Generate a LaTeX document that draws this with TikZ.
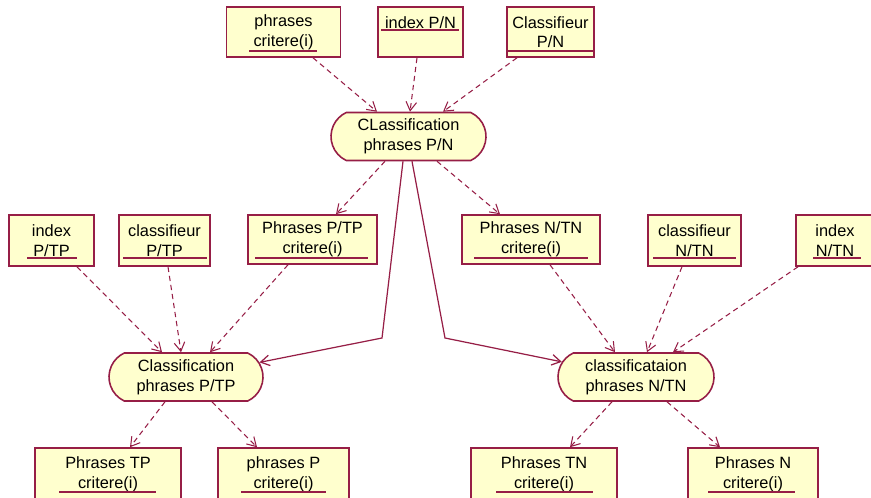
\documentclass[tikz,border=0pt]{standalone}
\usepackage{fontspec}
\setmainfont{Liberation Sans}
\usepackage{tikz}
\usetikzlibrary{calc,arrows.meta,shapes.misc}

\definecolor{roseline}{RGB}{150,30,70}
\definecolor{rosefill}{RGB}{255,255,206}

\begin{document}
\begin{tikzpicture}[x=0.02cm,y=-0.02cm,
	obj/.style={draw=roseline, fill=rosefill, line width=0.9pt, inner sep=0pt,
		align=center, font=\fontsize{9.3}{11.2}\selectfont},
	activity/.style={draw=roseline, fill=rosefill, line width=0.9pt, inner sep=0pt,
		rounded rectangle, rounded rectangle arc length=130,
		minimum width=155*0.02cm, minimum height=48*0.02cm,
		align=center, font=\fontsize{9.3}{11.2}\selectfont},
	ulline/.style={draw=roseline, line width=0.8pt},
	flow/.style={draw=roseline, line width=0.6pt, dash pattern=on 3pt off 2.2pt,
		-{Straight Barb[length=5pt,width=6pt]}},
	trans/.style={draw=roseline, line width=0.7pt,
		-{Straight Barb[length=5pt,width=6pt]}}]

	% ---- frame

	\useasboundingbox (0,0) rectangle (871,497);
	\clip (0,0) rectangle (871,497);

	% ---- objects, top row

	\node[obj, minimum width=114*0.02cm, minimum height=50*0.02cm] (phrPN) at (283.5,32) {phrases\\critere(i)};
	\node[obj, minimum width=85*0.02cm, minimum height=50*0.02cm] (idxPN) at (420.5,32) {index P/N\\\mbox{}};
	\node[obj, minimum width=87*0.02cm, minimum height=50*0.02cm] (clfPN) at (550.5,32) {Classifieur\\P/N};

	% ---- objects, middle row

	\node[obj, minimum width=85*0.02cm, minimum height=51*0.02cm] (idxPTP) at (51.5,240.5) {index\\P/TP};
	\node[obj, minimum width=91*0.02cm, minimum height=51*0.02cm] (clfPTP) at (164.5,240.5) {classifieur\\P/TP};
	\node[obj, minimum width=129*0.02cm, minimum height=49*0.02cm] (phrPTP) at (312.5,239.5) {Phrases P/TP\\critere(i)};
	\node[obj, minimum width=138*0.02cm, minimum height=49*0.02cm] (phrNTN) at (531,239.5) {Phrases N/TN\\critere(i)};
	\node[obj, minimum width=93*0.02cm, minimum height=51*0.02cm] (clfNTN) at (694.5,240.5) {classifieur\\N/TN};
	\node[obj, minimum width=78*0.02cm, minimum height=51*0.02cm] (idxNTN) at (835,240.5) {index\\N/TN};

	% ---- objects, bottom row

	\node[obj, minimum width=146*0.02cm, minimum height=52*0.02cm] (phrTP) at (108,474) {Phrases TP\\critere(i)};
	\node[obj, minimum width=131*0.02cm, minimum height=52*0.02cm] (phrP) at (283.5,474) {phrases P\\critere(i)};
	\node[obj, minimum width=146*0.02cm, minimum height=52*0.02cm] (phrTN) at (544,474) {Phrases TN\\critere(i)};
	\node[obj, minimum width=130*0.02cm, minimum height=52*0.02cm] (phrN) at (753,474) {Phrases N\\critere(i)};

	% ---- underlines

	\foreach \y/\a/\b in {51/249/317, 30/381/459, 51/507/594,
		258/27/77, 258/123/207, 258/255/368, 258/474/588, 258/653/736, 258/813/861,
		492/59/156, 492/241/326, 492/496/593, 492/708/795} {
		\draw[ulline] (\a,\y) -- (\b,\y);
	}

	% ---- activities

	\node[activity] (clsPN) at (408.5,136.5) {CLassification\\phrases P/N};
	\node[activity, minimum width=154*0.02cm] (clsPTP) at (186,377) {Classification\\phrases P/TP};
	\node[activity, minimum width=156*0.02cm] (clsNTN) at (636,377) {classificataion\\phrases N/TN};

	% ---- object flows

	\foreach \a/\da/\b/\db in {phrPN/29.5/clsPN/-31.5, idxPN/-3.5/clsPN/1.5, clfPN/-33.5/clsPN/34.5,
		idxPTP/25.5/clsPTP/-24, clfPTP/3.5/clsPTP/-5, phrPTP/-24.5/clsPTP/24,
		phrNTN/19/clsNTN/-21, clfNTN/-12.5/clsNTN/11, idxNTN/-37/clsNTN/37,
		clsPN/-23.5/phrPTP/23.5, clsPN/28.5/phrNTN/-31,
		clsPTP/-21/phrTP/22, clsPTP/26/phrP/-26.5,
		clsNTN/-24/phrTN/26, clsNTN/31/phrN/-33} {
		\draw[flow] ($(\a.south)+(\da,0)$) -- ($(\b.north)+(\db,0)$);
	}

	% ---- transitions

	\coordinate (bendL) at (382,338);
	\coordinate (bendR) at (445,338);

	\draw[trans] ($(clsPN.south)+(-5.5,0)$) -- (bendL) -- (clsPTP);
	\draw[trans] ($(clsPN.south)+(3.5,0)$) -- (bendR) -- (clsNTN);

\end{tikzpicture}
\end{document}
